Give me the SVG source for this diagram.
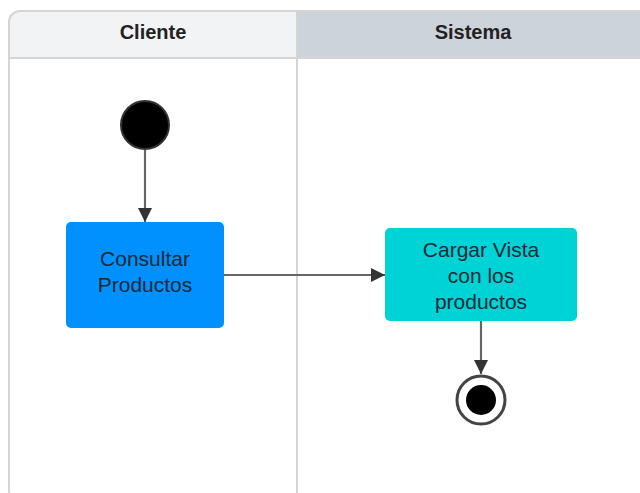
<svg xmlns="http://www.w3.org/2000/svg" width="640" height="493" viewBox="0 0 640 493">
<style>
.hdr{font-family:"Liberation Sans",Arial,sans-serif;font-weight:bold;font-size:20px;fill:#222;text-anchor:middle}
.lbl{font-family:"Liberation Sans",Arial,sans-serif;font-size:21px;fill:#1a2a35;text-anchor:middle}
.edge{stroke:#666;stroke-width:2.2;fill:none}
</style>
<defs>
<marker id="arr" viewBox="0 0 14 14" refX="14" refY="7" markerWidth="14" markerHeight="14" markerUnits="userSpaceOnUse" orient="auto">
<path d="M0,0 L14,7 L0,14 Z" fill="#333"/>
</marker>
</defs>
<rect width="640" height="493" fill="#fff"/>
<g id="lanes">
<path d="M9,58 V22 Q9,11 20,11 H297 V58 Z" fill="#f2f3f5"/>
<rect x="297" y="11" width="350" height="47" fill="#cdd3da"/>
<rect x="9" y="11" width="650" height="490" rx="11" fill="none" stroke="#d4d4d4" stroke-width="2"/>
<line x1="9" y1="58" x2="640" y2="58" stroke="#d4d4d4" stroke-width="2"/>
<line x1="297" y1="11" x2="297" y2="493" stroke="#d4d4d4" stroke-width="2"/>
<text class="hdr" x="153" y="39">Cliente</text>
<text class="hdr" x="473" y="39">Sistema</text>
</g>
<g id="connectors">
<line class="edge" x1="145" y1="150" x2="145" y2="222" marker-end="url(#arr)"/>
<line class="edge" x1="224" y1="275" x2="385" y2="275" marker-end="url(#arr)"/>
<line class="edge" x1="481" y1="321" x2="481" y2="374" marker-end="url(#arr)"/>
</g>
<g id="start">
<circle cx="145" cy="125" r="24" fill="#000" stroke="#333" stroke-width="2"/>
</g>
<g id="consultar">
<rect x="66" y="222" width="158" height="106" rx="5" fill="#0091ff"/>
<text class="lbl" x="145" y="266">Consultar</text>
<text class="lbl" x="145" y="292">Productos</text>
</g>
<g id="cargar">
<rect x="385" y="228" width="192" height="93" rx="5" fill="#00d3d6"/>
<text class="lbl" x="481" y="257">Cargar Vista</text>
<text class="lbl" x="481" y="283">con los</text>
<text class="lbl" x="481" y="309">productos</text>
</g>
<g id="end">
<circle cx="481" cy="400" r="24" fill="#fff" stroke="#444" stroke-width="3"/>
<circle cx="481" cy="400" r="15" fill="#000"/>
</g>
</svg>
